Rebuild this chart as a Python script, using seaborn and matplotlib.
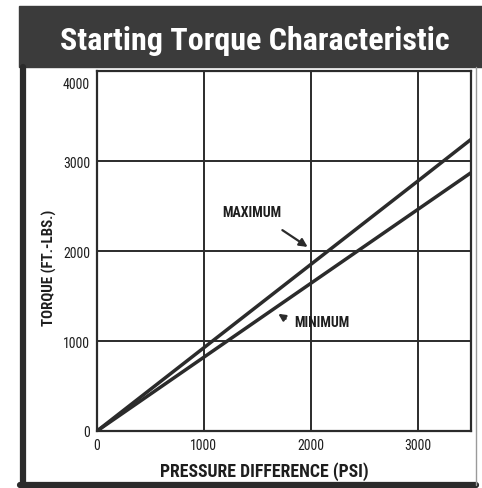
import matplotlib
matplotlib.use('Agg')
import matplotlib.pyplot as plt
import seaborn as sns
import pandas as pd
from matplotlib.patches import Rectangle
from matplotlib.lines import Line2D
from matplotlib.transforms import ScaledTranslation

# data
pressure = [0, 1000, 2000, 3000, 3500]
torque_max = [0, 925, 1850, 2775, 3240]
torque_min = [0, 820, 1640, 2460, 2870]
x_ticks = [0, 1000, 2000, 3000]
y_ticks = [0, 1000, 2000, 3000, 4000]

title = 'Starting Torque Characteristic'
x_label = 'PRESSURE DIFFERENCE (PSI)'
y_label = 'TORQUE (FT.-LBS.)'

df = pd.DataFrame({
    'pressure': pressure * 2,
    'torque': torque_max + torque_min,
    'curve': ['MAXIMUM'] * len(pressure) + ['MINIMUM'] * len(pressure),
})

sns.set_style('white')
plt.rcParams['font.family'] = ['Roboto Condensed', 'DejaVu Sans']

ink = '#2b2b2b'
txt = '#1e1e1e'
W, H = 482, 489
fig = plt.figure(figsize=(W / 100, H / 100), dpi=100)
fig.patch.set_facecolor('white')

# title banner and frame
fig.patches.append(Rectangle((19 / W, 1 - 68 / H), 1 - 19 / W, 61 / H,
                             transform=fig.transFigure, color='#3b3b3b', zorder=0))
fig.lines.append(Line2D([23 / W, 23 / W], [1 - 68 / H, 0], transform=fig.transFigure,
                        color=ink, lw=4.5))
fig.lines.append(Line2D([20 / W, 476 / W], [3 / H, 3 / H], transform=fig.transFigure,
                        color=ink, lw=4.5))
fig.lines.append(Line2D([476 / W, 476 / W], [1 - 68 / H, 3 / H], transform=fig.transFigure,
                        color='#9a9a9a', lw=1.0))
fig.text(254.5 / W, 1 - 41 / H, title, color='white', fontsize=23, fontweight='bold',
         ha='center', va='center')

ax = fig.add_axes([97 / W, 1 - 432 / H, 374 / W, 360 / H])
sns.lineplot(data=df, x='pressure', y='torque', units='curve', estimator=None,
             color=ink, lw=2.5, ax=ax, legend=False)

ax.set_xlim(0, 3500)
ax.set_ylim(0, 4000)
ax.set_xticks(x_ticks)
ax.set_yticks(y_ticks)
ax.set_xticklabels([str(t) for t in x_ticks])
ax.set_yticklabels([str(t) for t in y_ticks])
ax.tick_params(length=0, labelsize=10, colors=txt, pad=5)
# top label sits just under the banner
top = ax.get_yticklabels()[-1]
top.set_va('top')
top.set_transform(top.get_transform() + ScaledTranslation(0, -4 / 72, fig.dpi_scale_trans))
ax.grid(True, color=ink, lw=1.4)
for s in ax.spines.values():
    s.set_color(ink)
    s.set_linewidth(1.6)
ax.set_xlabel(x_label, fontsize=12.8, fontweight='bold', color=txt)
ax.set_ylabel(y_label, fontsize=10.8, fontweight='bold', color=txt)
ax.xaxis.set_label_coords(0.447, -0.083)
ax.yaxis.set_label_coords(-0.107, 0.457)

ax.text(1450, 2438, 'MAXIMUM', fontsize=10, fontweight='bold', color=txt,
        ha='center', va='center')
ax.annotate('', xy=(1993, 2028), xytext=(1713, 2249),
            arrowprops=dict(arrowstyle='-|>', color=ink, lw=1.6, mutation_scale=12))
ax.text(1844, 1208, 'MINIMUM', fontsize=10, fontweight='bold', color=txt,
        ha='left', va='center')
ax.annotate('', xy=(1675, 1319), xytext=(1787, 1230),
            arrowprops=dict(arrowstyle='-|>', color=ink, lw=1.6, mutation_scale=10))

fig.savefig('out.png', dpi=100)
